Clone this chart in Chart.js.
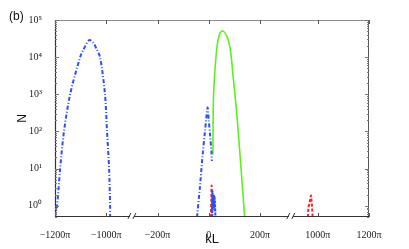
<!DOCTYPE html>
<html>
<head>
<meta charset="utf-8">
<script src="https://cdn.jsdelivr.net/npm/chart.js@4.4.1/dist/chart.umd.min.js"></script>
<style>
  html, body { margin: 0; padding: 0; background: #fff; }
  #wrap { width: 409px; height: 249px; }
</style>
</head>
<body>
<div id="wrap"><canvas id="chart"></canvas></div>
<script>
// kL in units of pi, N on log axis
const blueWideK = [-1200, -1192, -1180, -1165, -1141, -1102, -1089, -1066, -1050, -1037, -1024, -1005, -997, -989, -985, -985];
const blueWideN = [0.5, 1, 10, 100, 1000, 10000, 16000, 29000, 24000, 16000, 10000, 1000, 100, 10, 1, 0.5];

const blueSpikeK = [-46, -35, -25, -15, -5, -3, 0, 5, 10, 12];
const blueSpikeN = [0.5, 3, 20, 100, 440, 350, 200, 80, 30, 16];

const blueLowK = [12, 14, 16, 18, 20, 22, 24, 26];
const blueLowN = [0.5, 2.5, 1, 2, 0.8, 1.8, 1.2, 0.5];

const redLowK = [8, 10, 11, 12, 13, 14];
const redLowN = [0.5, 1.5, 3.5, 2, 1, 0.5];

const greenK = [16, 18, 25, 34, 44, 55, 71, 84, 95, 110, 125, 140];
const greenN = [24, 720, 5600, 24000, 45000, 51000, 36000, 16000, 3000, 257, 12, 0.5];

const redFarK = [962, 964, 968, 972, 974, 976, 978, 980];
const redFarN = [0.5, 0.9, 1.2, 1.7, 1.9, 1.3, 0.9, 0.5];

const xTickK = [-1200, -1000, -200, 0, 200, 1000, 1200];
const xTickLabels = ['\u22121200\u03c0', '\u22121000\u03c0', '\u2212200\u03c0', '0', '200\u03c0', '1000\u03c0', '1200\u03c0'];
const yTicks = [1, 10, 100, 1000, 10000, 100000];
const yTickLabels = ['10\u2070', '10\u00b9', '10\u00b2', '10\u00b3', '10\u2074', '10\u2075'];

// broken axis: squeeze the two gaps
function toAxis(k) {
    if (k <= -600) return k / 100 + 12;
    if (k <= 600) return k / 100 + 6;
    return k / 100 + 0.25;
}
const breakPos = [3.0, 9.2];

const pts = (ks, ns) => ks.map((k, i) => ({ x: toAxis(k), y: ns[i] }));

const BLUE = '#2f4dff';
const RED = '#ff1f1f';
const GREEN = '#5cf01e';

const serif = 'Liberation Serif';

const framePlugin = {
    id: 'frame',
    afterDatasetsDraw(chart) {
        const { ctx, chartArea: a, scales } = chart;
        const xs = scales.x, ys = scales.y;
        ctx.save();
        ctx.lineWidth = 1;
        // top and right
        ctx.strokeStyle = '#8a8a8a';
        ctx.beginPath();
        ctx.moveTo(a.left, a.top + 0.5);
        ctx.lineTo(a.right, a.top + 0.5);
        ctx.stroke();
        ctx.strokeStyle = '#555';
        ctx.beginPath();
        ctx.moveTo(a.right - 0.5, a.top);
        ctx.lineTo(a.right - 0.5, a.bottom);
        ctx.stroke();
        // left and bottom
        ctx.strokeStyle = '#333';
        ctx.lineWidth = 1.2;
        ctx.beginPath();
        ctx.moveTo(a.left + 0.5, a.top);
        ctx.lineTo(a.left + 0.5, a.bottom - 0.5);
        ctx.lineTo(a.right, a.bottom - 0.5);
        ctx.stroke();

        // x ticks, inside, top and bottom
        ctx.lineWidth = 1;
        ctx.strokeStyle = '#555';
        xTickK.forEach(k => {
            const px = Math.round(xs.getPixelForValue(toAxis(k))) + 0.5;
            ctx.beginPath();
            ctx.moveTo(px, a.bottom);
            ctx.lineTo(px, a.bottom - 4);
            ctx.moveTo(px, a.top);
            ctx.lineTo(px, a.top + 4);
            ctx.stroke();
        });

        // y ticks, major and minor, both sides
        ctx.strokeStyle = '#777';
        for (let d = -1; d <= 5; d++) {
            for (let m = 1; m <= 9; m++) {
                const v = m * Math.pow(10, d);
                if (v < ys.min || v > ys.max) continue;
                const py = Math.round(ys.getPixelForValue(v)) + 0.5;
                const len = m === 1 ? 4 : 2;
                ctx.beginPath();
                ctx.moveTo(a.left, py);
                ctx.lineTo(a.left + len, py);
                ctx.moveTo(a.right, py);
                ctx.lineTo(a.right - len, py);
                ctx.stroke();
            }
        }

        // break marks on the bottom axis
        breakPos.forEach(b => {
            const px = xs.getPixelForValue(b);
            ctx.fillStyle = '#fff';
            ctx.fillRect(px - 2, a.bottom - 3, 4, 5);
            ctx.strokeStyle = '#333';
            ctx.beginPath();
            ctx.moveTo(px - 4, a.bottom + 2);
            ctx.lineTo(px - 1, a.bottom - 4);
            ctx.moveTo(px + 1, a.bottom + 2);
            ctx.lineTo(px + 4, a.bottom - 4);
            ctx.stroke();
        });

        // panel label
        ctx.fillStyle = '#111';
        ctx.font = '12px "Liberation Sans"';
        ctx.textBaseline = 'middle';
        ctx.textAlign = 'left';
        ctx.fillText('(b)', 9, 17);
        ctx.restore();
    }
};

const line = (label, data, color, dash, width) => ({
    label,
    data,
    borderColor: color,
    backgroundColor: color,
    borderWidth: width,
    borderDash: dash,
    pointRadius: 0,
    tension: 0.3,
    fill: false
});

new Chart(document.getElementById('chart'), {
    type: 'line',
    data: {
        datasets: [
            line('blue wide', pts(blueWideK, blueWideN), BLUE, [4, 2, 1, 2], 2),
            line('blue spike', pts(blueSpikeK, blueSpikeN), BLUE, [4, 2, 1, 2], 2),
            line('blue low', pts(blueLowK, blueLowN), BLUE, [3, 1], 2),
            line('red low', pts(redLowK, redLowN), RED, [3, 2], 2),
            line('green', pts(greenK, greenN), GREEN, [], 1.6),
            line('red far', pts(redFarK, redFarN), RED, [3, 2], 2)
        ]
    },
    options: {
        responsive: true,
        maintainAspectRatio: false,
        animation: false,
        layout: { padding: { left: 15, right: 40, top: 20, bottom: 0 } },
        plugins: {
            legend: { display: false },
            tooltip: { enabled: false }
        },
        scales: {
            x: {
                type: 'linear',
                min: 0,
                max: 12.25,
                grid: { display: false },
                border: { display: false },
                afterBuildTicks: s => { s.ticks = xTickK.map(k => ({ value: toAxis(k) })); },
                afterFit: s => { s.height = 32; },
                ticks: {
                    autoSkip: false,
                    maxRotation: 0,
                    padding: 4,
                    color: '#222',
                    font: { family: serif, size: 10 },
                    callback: (v, i) => xTickLabels[i]
                },
                title: {
                    display: true,
                    text: 'kL',
                    color: '#111',
                    font: { family: 'Liberation Sans', size: 13 },
                    padding: { top: 0, bottom: 2 }
                }
            },
            y: {
                type: 'logarithmic',
                min: 0.5,
                max: 100000,
                grid: { display: false },
                border: { display: false },
                afterBuildTicks: s => { s.ticks = yTicks.map(v => ({ value: v })); },
                afterFit: s => { s.width = 40; },
                ticks: {
                    padding: 5,
                    color: '#222',
                    font: { family: serif, size: 10 },
                    callback: (v, i) => yTickLabels[i]
                },
                title: {
                    display: true,
                    text: 'N',
                    color: '#111',
                    font: { family: 'Liberation Sans', size: 12 },
                    padding: { top: 0, bottom: 0 }
                }
            }
        }
    },
    plugins: [framePlugin]
});
</script>
</body>
</html>
